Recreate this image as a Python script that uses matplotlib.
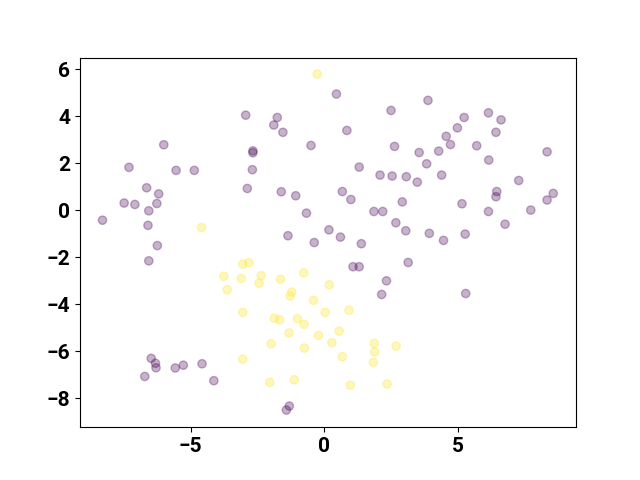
import matplotlib
matplotlib.use('Agg')
import matplotlib.pyplot as plt

# purple group (label 0)
x0 = [-2.94, -1.76, -1.89, -1.55, -6.00, -0.50, -2.67, -2.67, -7.30, -5.54,
      -4.86, -2.69, -6.64, -6.19, -2.88, -1.61, -1.07, -7.48, -7.08, -6.26,
      -6.56, -0.67, -8.29, -6.59, 0.17, -1.36, -0.38, -6.24,
      0.45, 2.49, 3.87, 0.84, 5.22, 6.13, 6.60, 4.97, 6.41, 4.55,
      4.71, 5.69, 2.62, 3.54, 4.27, 8.32, 3.82, 6.14, 1.30, 2.08,
      2.53, 3.06, 3.47, 4.38, 7.26, 0.67, 0.99, 6.44, 6.41, 8.55,
      8.32, 2.91, 5.14, 1.85, 2.18, 6.13, 7.71, 2.67, 6.75, 0.60,
      3.04, 3.92, 4.45, 5.26, 1.38,
      -6.56, 1.07, 1.30, 3.13, 2.32, 2.14, 5.28,
      -6.47, -6.31, -6.29, -6.71, -5.57, -5.27, -4.57, -4.13, -1.31, -1.42]
y0 = [4.04, 3.94, 3.62, 3.31, 2.78, 2.75, 2.52, 2.44, 1.82, 1.69,
      1.69, 1.72, 0.95, 0.69, 0.92, 0.78, 0.61, 0.30, 0.24, 0.28,
      -0.03, -0.13, -0.43, -0.65, -0.84, -1.09, -1.38, -1.51,
      4.94, 4.24, 4.67, 3.39, 3.94, 4.14, 3.84, 3.50, 3.31, 3.14,
      2.79, 2.74, 2.71, 2.45, 2.51, 2.48, 1.97, 2.13, 1.83, 1.49,
      1.45, 1.42, 1.19, 1.49, 1.26, 0.79, 0.45, 0.79, 0.57, 0.71,
      0.43, 0.35, 0.27, -0.06, -0.06, -0.06, 0.00, -0.54, -0.60, -1.15,
      -0.88, -0.99, -1.29, -1.02, -1.43,
      -2.16, -2.41, -2.41, -2.23, -3.01, -3.59, -3.55,
      -6.31, -6.52, -6.71, -7.08, -6.72, -6.60, -6.54, -7.26, -8.34, -8.51]

# yellow group (label 1)
x1 = [-0.27, -4.59, -3.05, -2.82, -3.76, -3.11, -2.36, -2.44, -1.64, -0.77,
      -3.63, -1.22, -1.28, 0.18, -0.41, -3.05, 0.03, -1.87, -1.67, -1.01,
      -0.76, -1.32, -0.22, 0.28, -1.99, -0.75, -3.05, -2.04, -1.12,
      0.92, 0.55, 1.86, 1.88, 1.83, 2.68, 0.67, 0.97, 2.34]
y1 = [5.79, -0.74, -2.30, -2.24, -2.82, -2.91, -2.79, -3.11, -2.94, -2.67,
      -3.39, -3.49, -3.66, -3.18, -3.84, -4.35, -4.35, -4.60, -4.67, -4.62,
      -4.86, -5.23, -5.33, -5.64, -5.69, -5.87, -6.34, -7.33, -7.22,
      -4.26, -5.15, -5.67, -6.04, -6.48, -5.79, -6.24, -7.45, -7.40]

xs = x0 + x1
ys = y0 + y1
labels = [0] * len(x0) + [1] * len(x1)

plt.rcParams['font.family'] = ['Roboto', 'DejaVu Sans']

fig, ax = plt.subplots(figsize=(6.4, 4.8), dpi=100)
ax.scatter(xs, ys, c=labels, cmap='viridis', alpha=0.3)
ax.set_xlim(-9.13, 9.40)
ax.set_ylim(-9.24, 6.49)
ax.set_xticks([-5, 0, 5])
ax.set_yticks([-8, -6, -4, -2, 0, 2, 4, 6])
for lab in ax.get_xticklabels() + ax.get_yticklabels():
    lab.set_fontsize(15)
    lab.set_fontweight('bold')

plt.savefig('out.png')
